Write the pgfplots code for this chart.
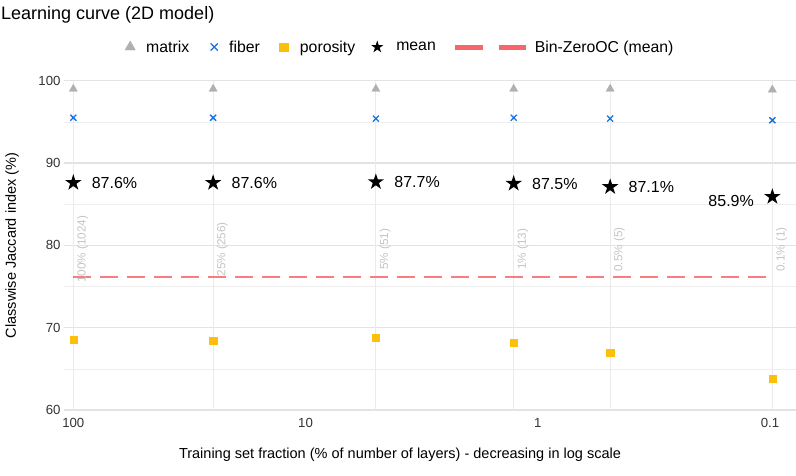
\documentclass[border=0pt]{standalone}
\usepackage{fontspec}
\setmainfont{Liberation Sans}
\usepackage{pgfplots}
\pgfplotsset{compat=1.18}
\definecolor{matrixc}{HTML}{B0B0B0}
\definecolor{fiberc}{HTML}{1470E0}
\definecolor{poroc}{HTML}{FCBF0A}
\definecolor{redc}{HTML}{F8666A}
\definecolor{gridc}{HTML}{E3E3E3}
\definecolor{vlinec}{HTML}{EBEBEB}
\definecolor{ticklab}{HTML}{333333}
\definecolor{annc}{HTML}{C4C4C4}
\pgfdeclareplotmark{fstar}{%
  \pgfpathmoveto{\pgfpointpolar{90}{\pgfplotmarksize}}%
  \pgfpathlineto{\pgfpointpolar{126}{0.382\pgfplotmarksize}}%
  \pgfpathlineto{\pgfpointpolar{162}{\pgfplotmarksize}}%
  \pgfpathlineto{\pgfpointpolar{198}{0.382\pgfplotmarksize}}%
  \pgfpathlineto{\pgfpointpolar{234}{\pgfplotmarksize}}%
  \pgfpathlineto{\pgfpointpolar{270}{0.382\pgfplotmarksize}}%
  \pgfpathlineto{\pgfpointpolar{306}{\pgfplotmarksize}}%
  \pgfpathlineto{\pgfpointpolar{342}{0.382\pgfplotmarksize}}%
  \pgfpathlineto{\pgfpointpolar{18}{\pgfplotmarksize}}%
  \pgfpathlineto{\pgfpointpolar{54}{0.382\pgfplotmarksize}}%
  \pgfpathclose
  \pgfusepathqfill
}
\pgfplotsset{
  legmark/.style 2 args={legend image code/.code={%
    \path[draw=none, fill=none] (-#1,0pt) -- (#2,0pt);
    \draw[##1] plot coordinates {(0pt,0pt)};}},
}
\begin{document}
\begin{tikzpicture}
\path[use as bounding box] (0,0) rectangle (796bp,476bp);
\begin{axis}[
  at={(64bp,66bp)}, anchor=south west,
  width=732bp, height=329.3bp, scale only axis,
  xmode=log, x dir=reverse,
  xmin=0.0773, xmax=109.7,
  ymin=60, ymax=100,
  axis line style={draw=none},
  major tick length=0, minor tick length=0,
  xtick={100,10,1,0.1}, xticklabels={100,10,1,0.1},
  extra x ticks={100,25,4.98,1.27,0.488,0.0977},
  extra x tick labels={},
  extra x tick style={grid=major, major grid style={vlinec, line width=0.8bp}},
  ytick={60,70,80,90,100},
  minor ytick={65,75,85,95},
  ymajorgrids, yminorgrids,
  major grid style={gridc, line width=1.1bp},
  minor grid style={gridc!60, line width=0.6bp},
  /pgf/number format/assume math mode=true,
  tick label style={font=\fontsize{13.2bp}{15bp}\selectfont, text=ticklab},
  xticklabel style={yshift=-5bp},
  xlabel={Training set fraction (\% of number of layers) - decreasing in log scale},
  ylabel={Classwise Jaccard index (\%)},
  label style={font=\fontsize{14.5bp}{16bp}\selectfont},
  xlabel style={at={(axis description cs:0.459,-0.1367)}, anchor=center},
  ylabel style={at={(axis description cs:-0.071,0.5)}, anchor=center},
  legend style={at={(axis description cs:0.0779,1.1023)}, anchor=west,
    draw=none, fill=none, legend columns=-1,
    nodes={inner sep=0pt}, column sep=0pt,
    font=\fontsize{15.8bp}{18bp}\selectfont},
  clip=false,
]
% Bin-ZeroOC dashed line
\addplot[redc, opacity=0.85, line width=2bp, dash pattern=on 18bp off 9bp,
  forget plot] coordinates {(100,76.2) (0.0977,76.2)};
% rotated annotations
\addplot[only marks, mark=none,
  nodes near coords, point meta=explicit symbolic,
  every node near coord/.append style={rotate=90, anchor=north, inner sep=3.5bp,
    text=annc, font=\fontsize{11.7bp}{13bp}\selectfont},
  forget plot] table[meta=lab] {
x y lab
100 79.5 {100\% (1024)}
25 79.5 {25\% (256)}
4.98 79.5 {5\% (51)}
1.27 79.5 {1\% (13)}
0.488 79.5 {0.5\% (5)}
0.0977 79.5 {0.1\% (1)}
};
\addlegendimage{only marks, mark=triangle*, mark size=6bp, color=matrixc, legmark={6bp}{16bp}}
\addlegendentry{matrix}
\addlegendimage{only marks, mark=x, mark size=5bp, line width=1.3bp, color=fiberc, legmark={25bp}{15bp}}
\addlegendentry{fiber}
\addlegendimage{only marks, mark=square*, mark size=4.3bp, color=poroc, legmark={24bp}{16bp}}
\addlegendentry{porosity}
\addlegendimage{only marks, mark=fstar, mark size=6.5bp, color=black, legmark={22bp}{19bp}}
\addlegendentry{mean}
\addlegendimage{legend image code/.code={\path[draw=none, fill=none] (-19bp,0pt) -- (80bp,0pt); \draw[redc, line width=5bp, dash pattern=on 28bp off 16bp] (0bp,0bp) -- (71bp,0bp);}}
\addlegendentry{Bin-ZeroOC (mean)}
% matrix
\addplot[only marks, mark=triangle*, mark size=4.7bp, color=matrixc, forget plot] coordinates {
(100,99.0) (25,99.0) (4.98,99.0) (1.27,99.0) (0.488,99.0) (0.0977,98.9)};
% fiber
\addplot[only marks, mark=x, mark size=4.2bp, line width=1.3bp, color=fiberc, forget plot] coordinates {
(100,95.5) (25,95.5) (4.98,95.4) (1.27,95.5) (0.488,95.4) (0.0977,95.2)};
% porosity
\addplot[only marks, mark=square*, mark size=3.6bp, color=poroc, forget plot] coordinates {
(100,68.5) (25,68.4) (4.98,68.8) (1.27,68.2) (0.488,67.0) (0.0977,63.8)};
% mean
\addplot[only marks, mark=fstar, mark size=8.6bp, color=black,
  nodes near coords, point meta=explicit symbolic,
  every node near coord/.append style={anchor=west, xshift=15bp, text=black,
    font=\fontsize{16bp}{18bp}\selectfont},
  forget plot] table[meta=lab] {
x y lab
100 87.6 {87.6\%}
25 87.6 {87.6\%}
4.98 87.7 {87.7\%}
1.27 87.5 {87.5\%}
0.488 87.1 {87.1\%}
};
\addplot[only marks, mark=fstar, mark size=8.6bp, color=black,
  nodes near coords, point meta=explicit symbolic,
  every node near coord/.append style={anchor=east, xshift=-15bp, yshift=-4bp, text=black,
    font=\fontsize{16bp}{18bp}\selectfont},
  forget plot] table[meta=lab] {
x y lab
0.0977 85.9 {85.9\%}
};
\end{axis}
\node[anchor=west, inner sep=0pt, font=\fontsize{18bp}{20bp}\selectfont] at (1bp,461bp) {Learning curve (2D model)};
\end{tikzpicture}
\end{document}
